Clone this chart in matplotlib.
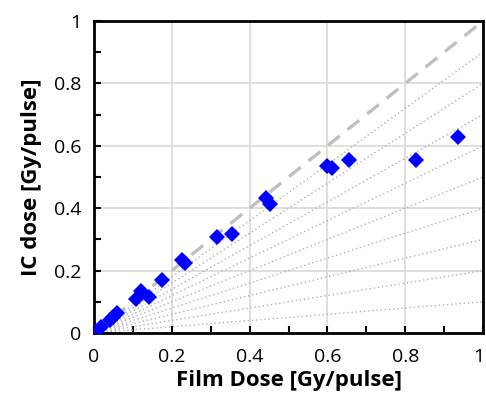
import matplotlib
matplotlib.use("Agg")
import matplotlib.pyplot as plt
import matplotlib.transforms as mtransforms
import numpy as np
from matplotlib.ticker import MultipleLocator

film_dose = [0.003, 0.018, 0.040, 0.049, 0.060, 0.109, 0.120, 0.141, 0.175,
             0.225, 0.234, 0.315, 0.356, 0.442, 0.452, 0.598, 0.611, 0.656,
             0.828, 0.937]
ic_dose = [0.003, 0.019, 0.042, 0.052, 0.065, 0.108, 0.136, 0.115, 0.170,
           0.234, 0.223, 0.309, 0.316, 0.432, 0.413, 0.535, 0.530, 0.554,
           0.554, 0.629]
fan_slopes = [0.1, 0.2, 0.3, 0.4, 0.5, 0.6, 0.7, 0.8, 0.9]
ticks = [0, 0.2, 0.4, 0.6, 0.8, 1]
tick_labels = ["0", "0.2", "0.4", "0.6", "0.8", "1"]

plt.rcParams['font.family'] = ['Open Sans', 'DejaVu Sans']

fig = plt.figure(figsize=(4.86, 3.94), dpi=100)
ax = fig.add_axes([94/486, 1-333/394, (483-94)/486, (333-21)/394])

xs = np.array([0, 1])
for s in fan_slopes:
    ax.plot(xs, s*xs, color='#b0b0b0', lw=1.0, ls=(0, (1, 2)), zorder=2)
ax.plot(xs, xs, color='#c0c0c0', lw=2.4, ls=(0, (4.5, 3)), zorder=2)

ax.plot(film_dose, ic_dose, ls='none', marker='D', ms=8, color='#0000ff',
        markeredgewidth=0, zorder=4)

ax.set_xlim(0, 1)
ax.set_ylim(0, 1)
ax.set_xticks(ticks)
ax.set_xticklabels(tick_labels)
ax.set_yticks(ticks)
ax.set_yticklabels(tick_labels)
ax.xaxis.set_minor_locator(MultipleLocator(0.1))
ax.yaxis.set_minor_locator(MultipleLocator(0.1))
ax.grid(True, which='major', color='#d9d9d9', lw=1.2, zorder=1)
ax.set_axisbelow(True)
ax.tick_params(which='both', direction='in', length=5, width=1.5, labelsize=14,
               colors='black')
ax.tick_params(axis='x', pad=11)
ax.tick_params(axis='y', pad=9)
for sp in ax.spines.values():
    sp.set_linewidth(2)
    sp.set_color('black')

# nudge the last x tick label so it stays inside the figure
last = ax.get_xticklabels()[-1]
last.set_transform(last.get_transform() +
                   mtransforms.ScaledTranslation(-4/100, 0, fig.dpi_scale_trans))

ax.set_xlabel('Film Dose [Gy/pulse]', fontsize=16, fontweight='bold', labelpad=3)
ax.set_ylabel('IC dose [Gy/pulse]', fontsize=16, fontweight='bold', labelpad=9)

fig.savefig('out.png', dpi=100)
